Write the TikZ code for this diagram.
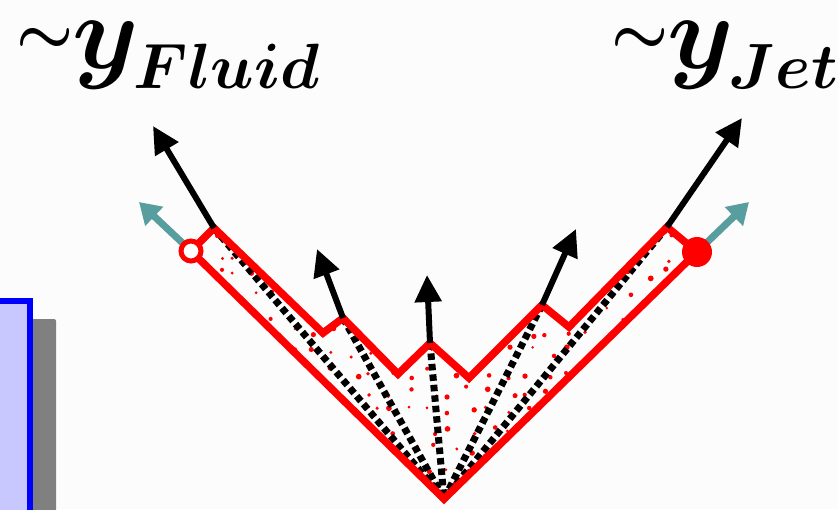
\documentclass[tikz,border=0pt]{standalone}
\usepackage{graphicx}
\usepackage{bm}
\usetikzlibrary{arrows.meta}
\definecolor{bg}{RGB}{252,252,252}
\definecolor{tealarrow}{RGB}{88,158,158}
\definecolor{boxfill}{RGB}{200,200,255}
\definecolor{shadowgray}{RGB}{128,128,128}
\tikzset{
  redline/.style={red, line width=7.5pt, line join=miter, line cap=round},
  flowarrow/.style={black, line width=6pt, -{Triangle[length=27pt,width=26pt]}},
  spinarrow/.style={tealarrow, line width=7pt, -{Triangle[length=21pt,width=25pt]}},
  dotline/.style={black, line width=7pt, dash pattern=on 6.5pt off 4pt},
  labeltext/.style={inner sep=0pt, anchor=base west}
}
\newcommand{\bigtilde}{\raisebox{15pt}{\scalebox{6.4}{$\bm{\sim}$}}}
\newcommand{\bigy}{\scalebox{10.6}{$\bm{y}$}}
\newcommand{\subtxt}[1]{\raisebox{-20pt}{\scalebox{6.4}{$\bm{#1}$}}}
\begin{document}
\begin{tikzpicture}[x=1pt,y=-1pt]
\useasboundingbox (0,0) rectangle (838,509);
\fill[bg] (0,0) rectangle (838,509);

% box at left
\fill[shadowgray, rounded corners=2pt] (20,319) rectangle (56,530);
\draw[blue, line width=6.5pt, fill=boxfill] (-20,301) rectangle (30,530);

% coordinates
\coordinate (apex) at (444,499);
\coordinate (lc) at (214,228);
\coordinate (v1) at (323,333);
\coordinate (p1) at (343,318);
\coordinate (v2) at (398,374);
\coordinate (p2) at (430,343);
\coordinate (v3) at (469,378);
\coordinate (p3) at (542,305);
\coordinate (v4) at (569,327);
\coordinate (rc) at (667,227);
\coordinate (lcirc) at (191,251);
\coordinate (rcirc) at (697,252);
\coordinate (t0) at (153,126);
\coordinate (t1) at (317,249);
\coordinate (t2) at (427,275);
\coordinate (t3) at (576,229);
\coordinate (t4) at (742,118);
\coordinate (sl) at (139,202);
\coordinate (sr) at (749,202);

% red dots
\begin{scope}
\clip (lc) -- (v1) -- (p1) -- (v2) -- (p2) -- (v3) -- (p3) -- (v4) -- (rc) -- (rcirc) -- (apex) -- (lcirc) -- cycle;
\pgfmathsetseed{7}
\foreach \i in {0,...,25}{
  \foreach \j in {0,...,13}{
    \pgfmathsetmacro\xx{198+\i*19.5+rand*6}
    \pgfmathsetmacro\yy{236+\j*19.5+rand*6}
    \pgfmathsetmacro\rr{1.4+rnd*1.5}
    \fill[red] (\xx,\yy) circle (\rr pt);
  }
}
\end{scope}

% dotted lines
\foreach \c in {lc,p1,p2,p3,rc}{
  \draw[dotline] (\c) -- (apex);
}

% red outline
\draw[redline] (lcirc) -- (lc) -- (v1) -- (p1) -- (v2) -- (p2) -- (v3) -- (p3) -- (v4) -- (rc) -- (rcirc);
\draw[redline] (lcirc) -- (apex) -- (rcirc);

% arrows
\draw[spinarrow] (lcirc) -- (sl);
\draw[spinarrow] (rcirc) -- (sr);
\draw[flowarrow] (lc) -- (t0);
\draw[flowarrow] (p1) -- (t1);
\draw[flowarrow] (p2) -- (t2);
\draw[flowarrow] (p3) -- (t3);
\draw[flowarrow] (rc) -- (t4);

% circles
\draw[red, line width=5pt, fill=white] (lcirc) circle (10pt);
\fill[red] (rcirc) circle (15pt);

% labels
\node[labeltext] (lfluid) at (16,68) {\bigtilde\kern-1pt\bigy\kern-5pt\subtxt{Fluid}};
\node[labeltext] (ljet) at (611,68) {\bigtilde\kern-1pt\bigy\kern-5pt\subtxt{Jet}};
\end{tikzpicture}
\end{document}
